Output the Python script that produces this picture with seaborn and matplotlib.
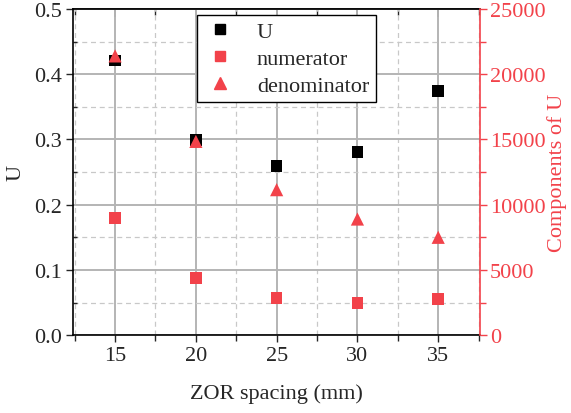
import matplotlib
matplotlib.use("Agg")
import matplotlib.pyplot as plt
from matplotlib.lines import Line2D
from matplotlib.ticker import MultipleLocator, FormatStrFormatter
import seaborn as sns
import pandas as pd

spacing = [15, 20, 25, 30, 35]
U = [0.421, 0.299, 0.259, 0.281, 0.374]
numerator = [9000, 4400, 2850, 2450, 2780]
denominator = [21400, 14850, 11150, 8900, 7500]

RED = "#F2424A"
FS = 16

sns.set_style("ticks")
plt.rcParams["font.family"] = ["Liberation Serif", "DejaVu Serif"]

df = pd.DataFrame({"spacing": spacing, "U": U,
                   "numerator": numerator, "denominator": denominator})

fig = plt.figure(figsize=(5.71, 4.14), dpi=100)
ax = fig.add_axes([0.128, 0.188, 0.713, 0.788])
ax2 = ax.twinx()

sns.scatterplot(data=df, x="spacing", y="U", ax=ax, marker="s", s=70,
                color="black", edgecolor="none", zorder=5)
sns.scatterplot(data=df, x="spacing", y="numerator", ax=ax2, marker="s", s=70,
                color=RED, edgecolor="none", zorder=5)
sns.scatterplot(data=df, x="spacing", y="denominator", ax=ax2, marker="^", s=90,
                color=RED, edgecolor="none", zorder=5)

ax.set_xlim(12.4, 37.6)
ax.set_ylim(0, 0.5)
ax2.set_ylim(0, 25000)

ax.xaxis.set_major_locator(MultipleLocator(5))
ax.xaxis.set_minor_locator(MultipleLocator(2.5))
ax.yaxis.set_major_locator(MultipleLocator(0.1))
ax.yaxis.set_minor_locator(MultipleLocator(0.05))
ax.yaxis.set_major_formatter(FormatStrFormatter("%.1f"))
ax2.yaxis.set_major_locator(MultipleLocator(5000))
ax2.yaxis.set_minor_locator(MultipleLocator(2500))

ax.grid(which="major", color="#B4B4B4", linestyle="-", linewidth=1.4)
ax.grid(which="minor", color="#C8C8C8", linestyle=(0, (4, 3)), linewidth=0.9)
ax.set_axisbelow(True)

ax.set_xlabel("ZOR spacing (mm)", fontsize=FS, labelpad=13)
ax.set_ylabel("U", fontsize=FS, labelpad=6)
ax2.set_ylabel("Components of U", fontsize=FS, color=RED, labelpad=1)
ax2.set_xlabel("")

ax.tick_params(axis="both", which="major", labelsize=FS, length=5, width=1,
               direction="out", pad=3)
ax.tick_params(axis="x", which="minor", length=4, width=1, direction="out")
ax.tick_params(axis="y", which="minor", length=3, width=1, direction="in")
ax.tick_params(axis="x", which="both", top=False)
ax2.tick_params(axis="y", which="major", labelsize=FS, length=5, width=1,
                colors=RED, direction="out", pad=2)
ax2.tick_params(axis="y", which="minor", length=4, width=1, colors=RED, direction="out")

for s in ["left", "bottom", "top"]:
    ax.spines[s].set_color("black")
    ax.spines[s].set_linewidth(1.2)
ax2.spines["right"].set_color(RED)
ax2.spines["right"].set_linewidth(1.2)
ax.spines["right"].set_visible(False)
ax2.spines["left"].set_visible(False)
ax2.spines["top"].set_visible(False)
ax2.spines["bottom"].set_visible(False)

# top ticks pointing inward
secx = ax.secondary_xaxis("top")
secx.xaxis.set_major_locator(MultipleLocator(5))
secx.xaxis.set_minor_locator(MultipleLocator(2.5))
secx.tick_params(which="major", direction="in", length=6, width=1.2, labeltop=False)
secx.tick_params(which="minor", direction="in", length=4, width=1)
secx.set_xticklabels([])
secx.spines["top"].set_linewidth(1.2)

handles = [
    Line2D([], [], marker="s", color="black", linestyle="none", markersize=7),
    Line2D([], [], marker="s", color=RED, linestyle="none", markersize=7),
    Line2D([], [], marker="^", color=RED, linestyle="none", markersize=9),
]
labels = ["U", "numerator", "denominator"]
leg = ax2.legend(handles, labels, loc="upper left", bbox_to_anchor=(0.304, 0.982),
                 borderaxespad=0, fontsize=FS, frameon=True, fancybox=False,
                 edgecolor="black", framealpha=1, handletextpad=0.9,
                 labelspacing=0.28, borderpad=0.3, handlelength=1.5)
leg.get_frame().set_linewidth(1.0)

fig.savefig("out.png", dpi=100)
